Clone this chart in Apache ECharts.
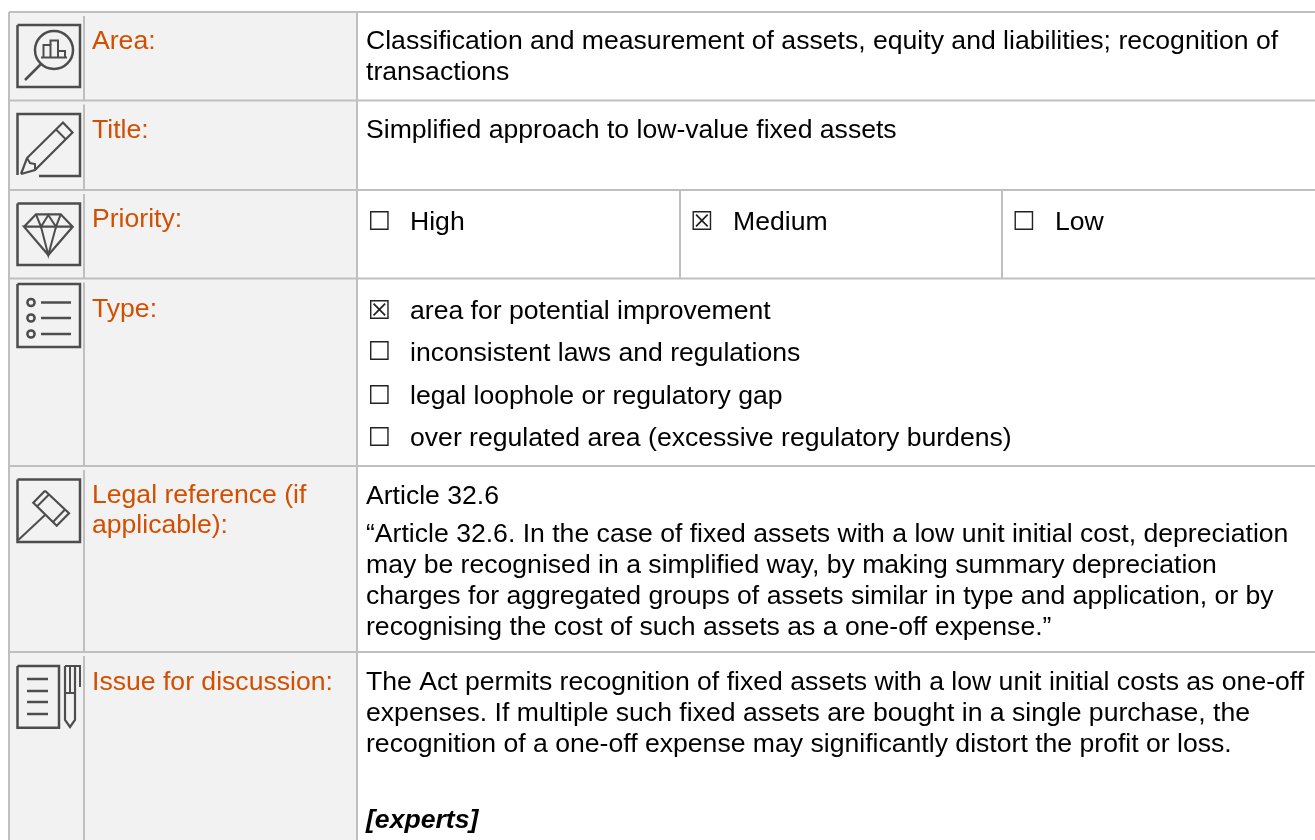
<!DOCTYPE html>
<html>
<head>
<meta charset="utf-8">
<title>Simplified approach to low-value fixed assets</title>
<style>
  html, body { margin: 0; padding: 0; background: #fff; }
  #main { width: 1315px; height: 840px; }
</style>
<script src="https://cdn.jsdelivr.net/npm/echarts@6/dist/echarts.min.js"></script>
</head>
<body>
<div id="main"></div>
<script>
  // table content
  const headings = ['Area:', 'Title:', 'Priority:', 'Type:', 'Legal reference (if', 'applicable):', 'Issue for discussion:'];
  const areaLines = ['Classification and measurement of assets, equity and liabilities; recognition of', 'transactions'];
  const titleLines = ['Simplified approach to low-value fixed assets'];
  const priorityLabels = ['High', 'Medium', 'Low'];
  const priorityMarks = ['☐', '☒', '☐'];
  const typeLabels = ['area for potential improvement', 'inconsistent laws and regulations', 'legal loophole or regulatory gap', 'over regulated area (excessive regulatory burdens)'];
  const typeMarks = ['☒', '☐', '☐', '☐'];
  const legalLines = [
    'Article 32.6',
    '“Article 32.6. In the case of fixed assets with a low unit initial cost, depreciation',
    'may be recognised in a simplified way, by making summary depreciation',
    'charges for aggregated groups of assets similar in type and application, or by',
    'recognising the cost of such assets as a one-off expense.”'
  ];
  const issueLines = [
    'The Act permits recognition of fixed assets with a low unit initial costs as one-off',
    'expenses. If multiple such fixed assets are bought in a single purchase, the',
    'recognition of a one-off expense may significantly distort the profit or loss.'
  ];
  const experts = '[experts]';

  // layout
  const gridColor = '#bfbfbf';
  const iconColor = '#4d4d4d';
  const headColor = '#d24f00';
  const rowLines = [12, 100.5, 190, 278.5, 466, 652];
  const font = '"Liberation Sans", Arial, sans-serif';
  const fontSize = 26.6;

  const els = [];

  function line(x1, y1, x2, y2) {
    els.push({ type: 'line', shape: { x1, y1, x2, y2 }, style: { stroke: gridColor, lineWidth: 2 } });
  }
  function txt(text, x, y, color, extra) {
    els.push({
      type: 'text', x, y,
      style: Object.assign({ text, fill: color || '#000', font: fontSize + 'px ' + font, verticalAlign: 'middle' }, extra)
    });
  }
  function mark(text, x, y) {
    els.push({ type: 'text', x, y, style: { text, fill: '#222', font: '26px "DejaVu Sans"', verticalAlign: 'middle' } });
  }
  function stroke(points, w) {
    els.push({ type: 'polyline', shape: { points }, style: { stroke: iconColor, lineWidth: w || 2, fill: null } });
  }
  function ring(cx, cy, r, w) {
    els.push({ type: 'circle', shape: { cx, cy, r }, style: { stroke: iconColor, lineWidth: w || 2, fill: null } });
  }
  function frame(x1, y1, x2, y2) {
    stroke([[x1, y1], [x2, y1], [x2, y2], [x1, y2], [x1, y1]], 2.5);
  }

  // backgrounds and grid
  els.push({ type: 'rect', shape: { x: 9, y: 12, width: 348, height: 828 }, style: { fill: '#f2f2f2' } });
  rowLines.forEach(y => line(9, y, 1315, y));
  line(9, 12, 9, 840);
  rowLines.forEach((y, i) => line(84, y + 4, 84, i < 5 ? rowLines[i + 1] : 840));
  line(357, 12, 357, 840);
  line(680, 190, 680, 278.5);
  line(1002, 190, 1002, 278.5);

  // left column headings
  const headY = [42, 130.5, 220, 310, 496, 526, 683];
  headings.forEach((h, i) => txt(h, 92, headY[i], headColor));

  // right column
  txt(areaLines[0], 366, 42);
  txt(areaLines[1], 366, 73);
  txt(titleLines[0], 366, 131);
  const prioMarkX = [367.5, 690, 1012];
  const prioTextX = [410, 733, 1055];
  priorityLabels.forEach((p, i) => {
    mark(priorityMarks[i], prioMarkX[i], 223);
    txt(p, prioTextX[i], 223);
  });
  const typeMarkY = [312.3, 353.6, 396.8, 438.8];
  const typeY = [312, 354, 397, 439];
  typeLabels.forEach((t, i) => {
    mark(typeMarks[i], 367.5, typeMarkY[i]);
    txt(t, 410, typeY[i]);
  });
  const legalY = [497, 535, 566, 597, 628];
  legalLines.forEach((t, i) => txt(t, 366, legalY[i]));
  const issueY = [683, 714, 745];
  issueLines.forEach((t, i) => txt(t, 366, issueY[i]));
  txt(experts, 366, 821, '#000', { font: 'italic bold ' + fontSize + 'px ' + font });

  // icon: magnifier with bars
  frame(17.5, 25, 80, 87);
  ring(54, 50, 19, 2.5);
  stroke([[25, 80], [41, 64]], 2.5);
  stroke([[43.5, 57], [43.5, 45], [50.5, 45], [50.5, 57]]);
  stroke([[50.5, 45], [50.5, 40.5], [58, 40.5], [58, 57]]);
  stroke([[58, 51], [65, 51], [65, 57]]);
  stroke([[41, 57.5], [67, 57.5]]);

  // icon: pencil
  stroke([[39, 176], [80, 176], [80, 114], [17.5, 114], [17.5, 175]], 2.5);
  stroke([[21, 174], [27, 158], [63, 122.5], [72.5, 132.5], [35, 170], [21, 174]], 2.2);
  stroke([[56, 129.5], [66, 139.5]]);
  stroke([[27, 158], [30, 163], [35, 164], [35, 170]]);

  // icon: diamond
  frame(17.5, 203.5, 80, 265);
  stroke([[24, 226.7], [36, 214.3], [60.7, 214.3], [72.7, 226.7], [48.3, 255], [24, 226.7], [72.7, 226.7]], 2.2);
  stroke([[36, 214.3], [41, 226.7], [48.3, 215], [56, 226.7], [60.7, 214.3]]);
  stroke([[41, 226.7], [48.3, 255], [56, 226.7]]);

  // icon: list
  frame(17.5, 284, 80, 347);
  [302.5, 318, 334].forEach(y => {
    ring(31, y, 3.6, 2.5);
    stroke([[41, y], [71, y]], 2.5);
  });

  // icon: gavel
  frame(17.5, 479.5, 80, 542);
  stroke([[18.3, 540], [45, 515]]);
  stroke([[45, 490.7], [69, 513.3], [56.7, 525.7], [33.3, 502.7], [45, 490.7]], 2.2);
  stroke([[49, 494.5], [37, 506.5]]);
  stroke([[65, 509.5], [53, 522]]);

  // icon: document and pen
  frame(17.5, 666, 59, 727.7);
  [679, 691, 702, 714].forEach(y => stroke([[27, y], [48, y]], 2.5));
  stroke([[65, 666], [65, 720], [70, 727], [75, 720], [75, 666]], 2.2);
  stroke([[65, 666], [80, 666], [80, 687]]);
  stroke([[65, 693], [75, 693]]);
  stroke([[70, 666], [70, 692]]);

  const myChart = echarts.init(document.getElementById('main'), null, { renderer: 'canvas' });
  myChart.setOption({
    animation: false,
    backgroundColor: '#fff',
    graphic: { elements: els.map(e => Object.assign({ silent: true }, e)) }
  });
</script>
</body>
</html>
